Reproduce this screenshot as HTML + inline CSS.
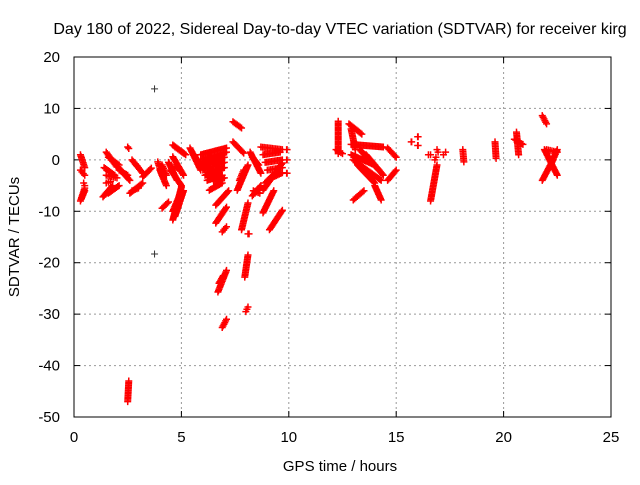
<!DOCTYPE html>
<html><head><meta charset="utf-8"><style>
body{margin:0;background:#fff}
svg text{font-family:"Liberation Sans",sans-serif;font-size:15px;fill:#000}
svg text.t{font-size:16px}
</style></head><body>
<svg id="chart" width="640" height="480" xmlns="http://www.w3.org/2000/svg">
<rect width="640" height="480" fill="#fff"/>
<text class="t" x="340" y="34" text-anchor="middle">Day 180 of 2022, Sidereal Day-to-day VTEC variation (SDTVAR) for receiver kirg</text>
<text x="340" y="471" text-anchor="middle">GPS time / hours</text>
<text x="19" y="237" text-anchor="middle" transform="rotate(-90 19 237)">SDTVAR / TECUs</text>
<g id="grid"></g><g id="marks"></g>
<rect x="74" y="57" width="537" height="360" fill="none" stroke="#000" stroke-width="1"/>
</svg>
<script>
const xTicks=[0,5,10,15,20,25];
const yTicks=[20,10,0,-10,-20,-30,-40,-50];
// observed track segments: [h0, v0, h1, v1]
const tracks=[[0.3,1,0.5,-1.5],[0.3,-2,0.5,-3],[0.45,-4.5,0.5,-5],[0.3,-8,0.5,-5.5],[0.35,-7.5,0.5,-6],
[1.5,1.5,2.0,-1.4],[1.6,0.5,2.1,-1],[1.4,-1.5,1.9,-3],[1.5,-3,2.0,-3.5],[1.35,-7.2,1.8,-5],[1.6,-6.5,2.1,-5],[1.5,-4.5,1.7,-4.2],
[2.5,2.5,2.55,2.2],[2.05,-1.4,2.6,-4],[2.1,-2,2.5,-3],[2.7,0,3.2,-2.6],[2.8,-0.5,3.0,-1.5],[2.6,-6.5,3.2,-4.5],[2.7,-6,3.0,-5.5],
[3.2,-3.3,3.6,-1.6],[3.9,-0.4,4.1,-3],[4.0,-2,4.3,-5],[4.1,-1,4.3,-3],[4.1,-9.4,4.4,-8.2],
[4.4,-0.5,4.8,-4],[4.6,0.6,5.1,-3],[4.5,-2,5.0,-5],[4.7,-1,4.9,-2],[4.6,2.9,5.2,1.0],[4.7,2.5,5.1,1.3],
[4.6,-11.7,5.0,-5.3],[4.7,-11,5.1,-6],[4.6,-10,4.9,-7],[5.4,2.3,5.9,-2],[5.5,1.5,5.8,-1],[5.6,1,5.9,-1.5],
[5.9,1,7.1,2.3],[5.9,0,7.1,1.5],[5.9,-1,7.0,0.5],[6.0,-2,7.0,-0.5],[6.1,-3,7.0,-1.5],[6.2,-4,6.9,-3],[6.5,-4.2,7.0,-3.5],[6.3,0.5,6.8,-2],[6.0,-0.5,6.5,-2.5],
[6.3,-5.9,6.9,-4.5],[6.6,-8.8,7.2,-6],[6.6,-12.3,7.1,-9.2],[6.9,-14,7.1,-13],[6.7,-25.7,7.1,-21.5],[6.75,-24,6.95,-22.5],[6.9,-32.6,7.1,-31],
[7.4,7.4,7.8,6.2],[7.4,3.5,7.9,1.3],[7.6,-5.9,8.1,-1],[7.7,-4,7.9,-2],[7.8,-13.6,8.1,-8.4],[8.1,-14.4,8.15,-14.4],[7.95,-22.8,8.1,-18.5],[8.0,-29.5,8.1,-28.6],
[8.2,1.5,8.7,-2.6],[8.3,0.5,8.6,-1],[8.3,-7,8.7,-5],[8.35,-6,8.65,-6.5],
[8.7,2.5,9.7,2.0],[8.8,1,9.6,1.5],[8.9,-0.5,9.7,0],[9.0,-2,9.7,-1.5],[9.2,-3.5,9.7,-2.5],[8.8,-5.9,9.7,-0.6],[8.9,-4.5,9.5,-2],
[8.8,-10.3,9.3,-6],[9.1,-13.6,9.7,-9.8],[9.9,2,9.92,2],[9.9,0,9.92,0],[9.9,-2.6,9.92,-2.6],
[2.5,-47,2.55,-43],
[12.3,7.5,12.3,1.2],[12.2,2,12.5,1.2],[12.8,7,13.4,5],[12.9,6,13.1,2],[12.9,3,14.4,2.5],[12.9,1,14,-1],[13,0,14.3,-4],[13.2,-1,14.0,-4.5],[13.3,2,14.2,-2],[13.6,1,14.4,-3],
[13,-7.8,13.5,-6],[14,-5,14.3,-7.8],[14.6,-4,15,-2],[14.6,2.3,15,0.5],
[15.7,3.5,15.72,3.5],[16.0,4.5,16.02,4.5],[16.0,2.8,16.02,2.8],[16.5,1,16.6,1],[16.9,2,16.95,1.5],[17.2,1,17.3,1.5],[16.8,0,16.85,0.5],
[16.6,-8,16.9,-1],[18.1,2,18.15,-0.4],[19.6,3.5,19.65,0.3],[20.6,5.4,20.7,1],[20.5,4,20.9,3],
[21.8,8.6,22.0,7],[21.8,-4,22.3,0],[21.9,2,22.5,-3],[22.0,2,22.5,1.5],[22.2,-1,22.5,2]];
const outlierH=[3.75,3.75];
const outlierV=[13.8,-18.3];
const X=h=>74+h*537/25;
const Y=v=>57+(20-v)*360/70;
const NS="http://www.w3.org/2000/svg";
const grid=document.getElementById('grid'),marks=document.getElementById('marks');
function mk(t,a,p){const e=document.createElementNS(NS,t);for(const k in a)e.setAttribute(k,a[k]);p.appendChild(e);return e;}
xTicks.forEach(t=>{const x=X(t);
 if(t>0&&t<25){const g=mk('line',{x1:x,x2:x,y1:57,y2:417,stroke:'#999','stroke-dasharray':'2,3'},grid);
 
 }
 mk('line',{x1:x,x2:x,y1:417,y2:411,stroke:'#000'},grid);mk('line',{x1:x,x2:x,y1:57,y2:63,stroke:'#000'},grid);
 const l=mk('text',{x:x,y:442,'text-anchor':'middle'},grid);l.textContent=t;
 
 });
yTicks.forEach(t=>{const y=Y(t);
 if(t<20&&t>-50){const g=mk('line',{x1:74,x2:611,y1:y,y2:y,stroke:'#999','stroke-dasharray':'2,3'},grid);
 
 }
 mk('line',{x1:74,x2:80,y1:y,y2:y,stroke:'#000'},grid);mk('line',{x1:605,x2:611,y1:y,y2:y,stroke:'#000'},grid);
 const l=mk('text',{x:60,y:y+5,'text-anchor':'end'},grid);l.textContent=t;
 
 });
function plus(x,y){return `M${x-3.5},${y}h7M${x},${y-3.5}v7`;}
let d='';
tracks.forEach(s=>{const x0=X(s[0]),y0=Y(s[1]),x1=X(s[2]),y1=Y(s[3]);
 const n=Math.max(2,Math.round(Math.hypot(x1-x0,y1-y0)/1.5));
 for(let i=0;i<n;i++){const f=i/(n-1);d+=plus(x0+(x1-x0)*f,y0+(y1-y0)*f);}});
const p=mk('path',{d:d,stroke:'#ff0000','stroke-width':1.5,fill:'none'},marks);


let d2='';outlierH.forEach((h,i)=>{d2+=plus(X(h),Y(outlierV[i]));});
const p2=mk('path',{d:d2,stroke:'#333','stroke-width':1,fill:'none'},marks);


</script>
</body></html>
